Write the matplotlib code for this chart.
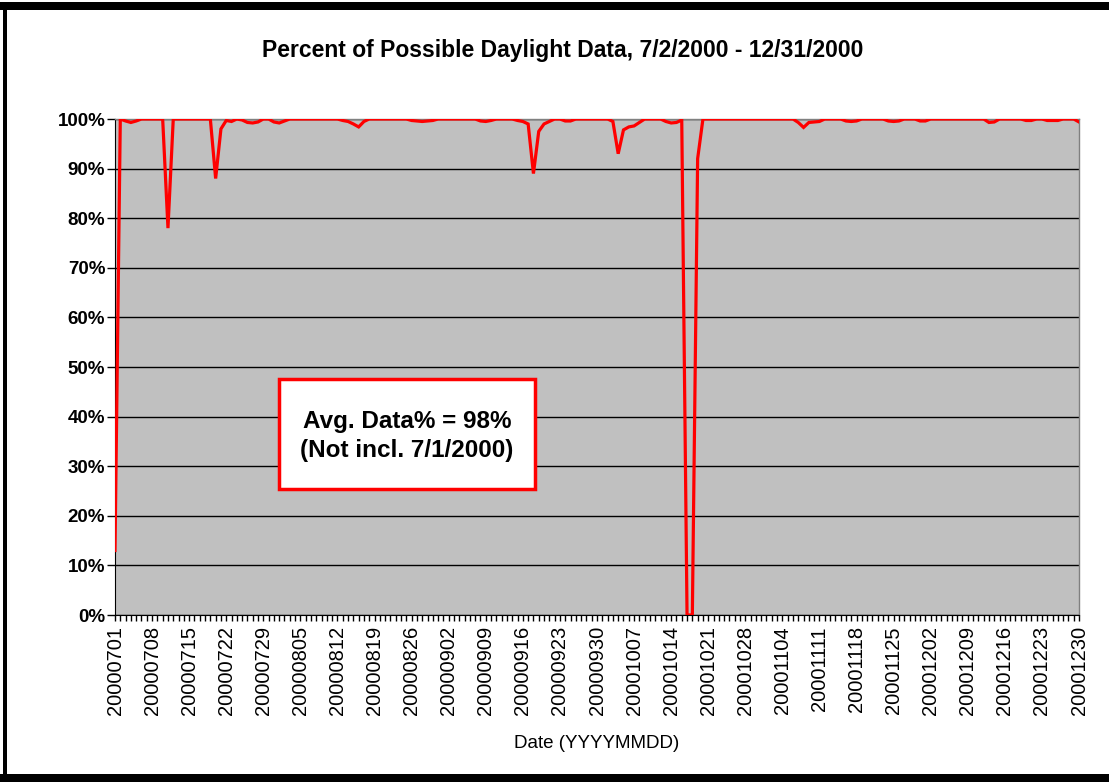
import matplotlib
matplotlib.use("Agg")
import matplotlib.pyplot as plt
from matplotlib.patches import Rectangle
import pandas as pd

plt.rcParams['font.family'] = ['Liberation Sans', 'DejaVu Sans']

# ---- data ----
dates = pd.date_range("2000-07-01", "2000-12-30", freq="D")
date_labels = [d.strftime("%Y%m%d") for d in dates]

pct_data = [
    13, 100, 99.6, 99.3, 99.6, 100, 100, 100, 100, 100,
    78, 100, 100, 100, 100, 100, 100, 100, 100, 88,
    98, 99.7, 99.5, 100, 99.8, 99.3, 99.2, 99.4, 100, 100,
    99.4, 99.2, 99.6, 100, 100, 100, 100, 100, 100, 100,
    100, 100, 100, 99.7, 99.5, 99.0, 98.4, 99.5, 100, 100,
    100, 100, 100, 100, 100, 100, 99.7, 99.6, 99.5, 99.6,
    99.7, 100, 100, 100, 100, 100, 100, 100, 100, 99.6,
    99.5, 99.7, 100, 100, 100, 100, 99.7, 99.5, 99.0, 89,
    97.5, 99.0, 99.5, 100, 100, 99.6, 99.6, 100, 100, 100,
    100, 100, 100, 100, 99.5, 93, 97.8, 98.4, 98.6, 99.3,
    100, 100, 100, 100, 99.5, 99.2, 99.3, 99.8, 0, 0,
    92, 100, 100, 100, 100, 100, 100, 100, 100, 100,
    100, 100, 100, 100, 100, 100, 100, 100, 100, 99.3,
    98.3, 99.3, 99.4, 99.5, 100, 100, 100, 100, 99.6, 99.5,
    99.6, 100, 100, 100, 100, 100, 99.6, 99.5, 99.6, 100,
    100, 100, 99.6, 99.6, 100, 100, 100, 100, 100, 100,
    100, 100, 100, 100, 100, 99.3, 99.4, 100, 100, 100,
    100, 100, 99.7, 99.7, 100, 100, 99.7, 99.7, 99.7, 100,
    100, 100, 99.4,
]

y_ticks = [0, 10, 20, 30, 40, 50, 60, 70, 80, 90, 100]
y_tick_labels = [f"{v}%" for v in y_ticks]

title = "Percent of Possible Daylight Data, 7/2/2000 - 12/31/2000"
x_title = "Date (YYYYMMDD)"
note = "Avg. Data% = 98%\n(Not incl. 7/1/2000)"

# ---- figure ----
W, H = 1109, 782
fig = plt.figure(figsize=(W / 100, H / 100), dpi=100)
fig.patch.set_facecolor("white")

def px_axes(l, t, r, b):
    return [l / W, 1 - b / H, (r - l) / W, (b - t) / H]

ax = fig.add_axes(px_axes(115, 119, 1079, 615))
ax.set_facecolor("#C0C0C0")

x = list(range(len(pct_data)))
ax.plot(x, pct_data, color="#FF0000", lw=2.3, solid_joinstyle="miter", zorder=3, clip_on=True)

ax.set_xlim(0, len(pct_data) - 1)
ax.set_ylim(0, 100)

ax.set_yticks(y_ticks)
ax.set_yticklabels(y_tick_labels, fontsize=13.5, fontweight="bold")
ax.yaxis.grid(True, color="black", lw=1.0)
ax.set_axisbelow(True)
ax.tick_params(axis="y", direction="out", length=6, width=1, pad=1)

ax.set_xticks(x, minor=True)
major_idx = list(range(0, len(pct_data), 7))
ax.set_xticks(major_idx)
ax.set_xticklabels([date_labels[i] for i in major_idx], rotation=90, fontsize=14.5)
ax.tick_params(axis="x", which="both", direction="out", length=4, width=1, pad=4)

for s in ["top", "right"]:
    ax.spines[s].set_color("#808080")
    ax.spines[s].set_linewidth(1)
ax.spines["left"].set_color("black")
ax.spines["bottom"].set_color("black")

fig.text(563 / W, 1 - 50 / H, title, ha="center", va="center", fontsize=16.5, fontweight="bold")
fig.text(597 / W, 1 - 743 / H, x_title, ha="center", va="center", fontsize=13.5)

# annotation box
fig.patches.append(Rectangle((279 / W, 1 - 489 / H), (535 - 279) / W, (489 - 379) / H,
                             transform=fig.transFigure, facecolor="white", edgecolor="#FF0000",
                             lw=2.5, zorder=5))
fig.text(407 / W, 1 - 436 / H, note, ha="center", va="center", fontsize=17.5,
         fontweight="bold", linespacing=1.3, zorder=6)

# outer frame (thick black)
fig.patches.append(Rectangle((0, 1 - 10 / H), 1, 8 / H, transform=fig.transFigure,
                             facecolor="black", edgecolor="none", zorder=10))
fig.patches.append(Rectangle((3 / W, 0), 4 / W, 1 - 2 / H, transform=fig.transFigure,
                             facecolor="black", edgecolor="none", zorder=10))
fig.patches.append(Rectangle((0, 1 - 782 / H), 1, 8 / H, transform=fig.transFigure,
                             facecolor="black", edgecolor="none", zorder=10))

fig.savefig("out.png", dpi=100)
